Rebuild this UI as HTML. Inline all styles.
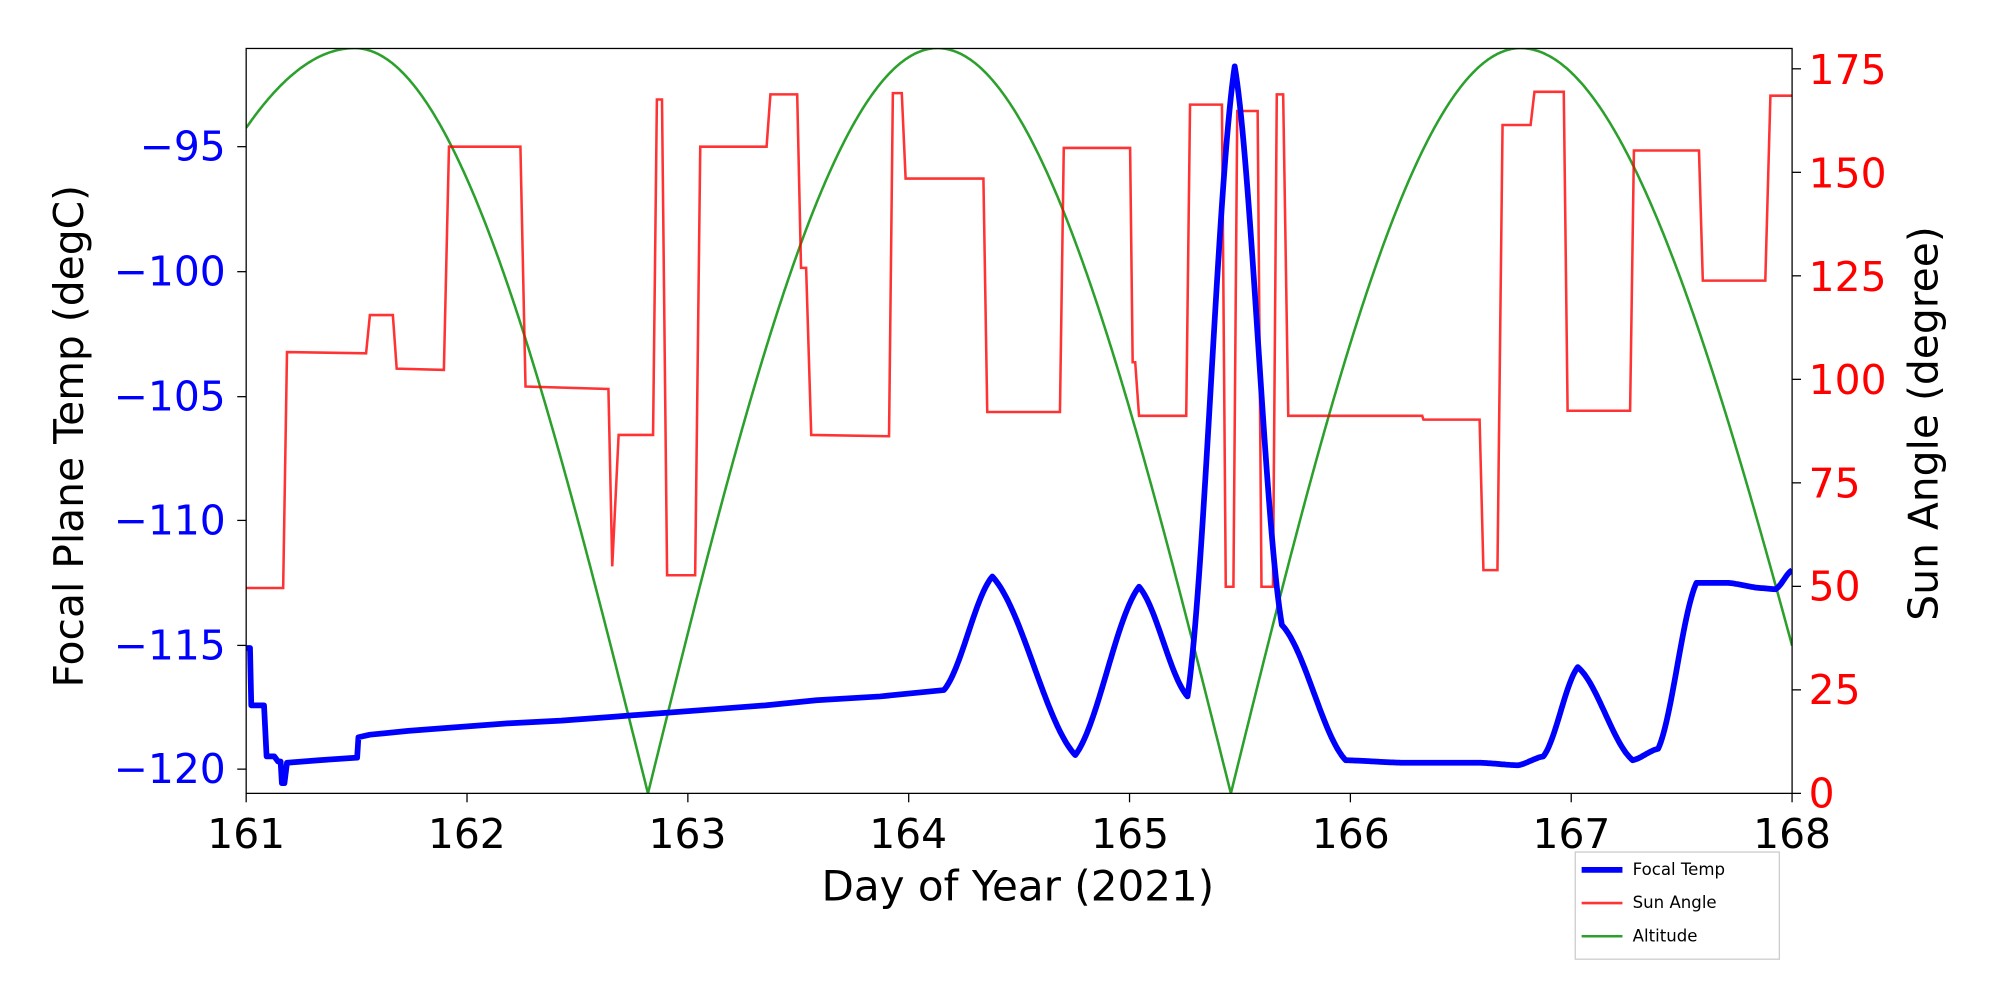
<!DOCTYPE html>
<html><head><meta charset="utf-8"><style>
html,body{margin:0;padding:0;background:#fff;}
svg{display:block;font-family:"DejaVu Sans","Liberation Sans",sans-serif;}
</style></head><body>
<svg id="s" width="2000" height="1000" viewBox="0 0 1568 784" preserveAspectRatio="none" xmlns="http://www.w3.org/2000/svg">
<defs><clipPath id="c"><rect x="193" y="38" width="1212" height="584"/></clipPath></defs>
<rect x="0" y="0" width="1568" height="784" fill="#fff"/>
<g clip-path="url(#c)">
<polyline id="alt" fill="none" stroke="#2ca02c" stroke-width="2"/>
<polyline fill="none" stroke="#ff0000" stroke-opacity="0.8" stroke-width="2" points="193,461 222,461 225,276 287,277 290,247 308,247 311,289 348,290 352,115 408,115 412,303 477,305 480,444 485,341 512,341 515,78 519,78 523,451 545,451 549,115 601,115 604,74 625,74 628,210 632,210 636,341 697,342 700,73 707,73 710,140 771,140 774,323 831,323 834,116 886,116 888,284 890,284 893,326 930,326 933,82 958,82 961,460 967,460 970,87 986,87 989,460 998,460 1001,74 1006,74 1010,326 1115,326 1116,329 1160,329 1163,447 1174,447 1178,98 1200,98 1203,72 1226,72 1229,322 1278,322 1281,118 1332,118 1335,220 1384,220 1388,75 1405,75"/>
<polyline id="ft" fill="none" stroke="#0000ff" stroke-width="4.5" stroke-linejoin="round"/>
</g>
<rect x="193" y="38" width="1212" height="584" fill="none" stroke="#000" stroke-width="1"/>
<g id="ticks" stroke="#000" stroke-width="1"></g>
<g font-size="32" fill="#0000ff" text-anchor="end">
<text x="177" y="126">−95</text><text x="177" y="224">−100</text><text x="177" y="322">−105</text><text x="177" y="419">−110</text><text x="177" y="517">−115</text><text x="177" y="614">−120</text>
</g>
<g font-size="32" fill="#ff0000" text-anchor="start">
<text x="1418" y="633">0</text><text x="1418" y="552">25</text><text x="1418" y="471">50</text><text x="1418" y="390">75</text><text x="1418" y="309">100</text><text x="1418" y="228">125</text><text x="1418" y="147">150</text><text x="1418" y="66">175</text>
</g>
<g font-size="32" fill="#000" text-anchor="middle">
<text x="193" y="665">161</text><text x="366" y="665">162</text><text x="539" y="665">163</text><text x="712" y="665">164</text><text x="886" y="665">165</text><text x="1059" y="665">166</text><text x="1232" y="665">167</text><text x="1405" y="665">168</text>
</g>
<text x="798" y="706" font-size="33" text-anchor="middle">Day of Year (2021)</text>
<text transform="translate(65,342) rotate(-90)" font-size="32" text-anchor="middle">Focal Plane Temp (degC)</text>
<text transform="translate(1519,332) rotate(-90)" font-size="32" text-anchor="middle">Sun Angle (degree)</text>
<rect x="1235" y="668" width="160" height="84" fill="#fff" stroke="#ccc" stroke-width="1"/>
<line x1="1240" y1="682" x2="1272" y2="682" stroke="#0000ff" stroke-width="4.5"/>
<line x1="1240" y1="708" x2="1272" y2="708" stroke="#ff0000" stroke-opacity="0.8" stroke-width="2"/>
<line x1="1240" y1="734" x2="1272" y2="734" stroke="#2ca02c" stroke-width="2"/>
<g font-size="13" fill="#000"><text x="1280" y="686">Focal Temp</text><text x="1280" y="712">Sun Angle</text><text x="1280" y="738">Altitude</text></g>
</svg>
<script>
(function(){
var a=[];
for(var x=193;x<=1405;x+=1){
 var pk,w;
 if(x<278){pk=278;w=286;}
 else if(x<508){pk=278;w=230;}
 else if(x<735){pk=735;w=227;}
 else if(x<965){pk=735;w=230;}
 else if(x<1192){pk=1192;w=227;}
 else {pk=1192;w=244;}
 var v=180*Math.cos(Math.PI/2*(x-pk)/w);if(v<0)v=-v;
 a.push(x+","+(622-v*3.246).toFixed(1));}
document.getElementById("alt").setAttribute("points",a.join(" "));
var steps="193,508 196,508 197,553 207,553 209,593 215,593 218,597 220,597 221,614 223,614 225,598 250,596 280,594 281,578 290,576 320,573 360,570 400,567 440,565 480,562 520,559 560,556 600,553 640,549 690,546 740,541";
var k=[[740,541],[778,452],[843,592],[893,460],[931,546],[968,52],[1005,490],[1055,596],[1100,598],[1160,598],[1190,600],[1210,593],[1237,523],[1280,596],[1300,587],[1330,457],[1355,457],[1380,461],[1392,462],[1405,447]];
var p=steps.split(" ");
for(var i=0;i<k.length-1;i++){var x0=k[i][0],y0=k[i][1],x1=k[i+1][0],y1=k[i+1][1];for(var x=x0+1;x<=x1;x++){var t=(x-x0)/(x1-x0);var s=0.5*((1-Math.cos(Math.PI*t))/2)+0.5*t;p.push(x+","+(y0+(y1-y0)*s).toFixed(1));}}
document.getElementById("ft").setAttribute("points",p.join(" "));
var g=document.getElementById("ticks"),h="";
[115,213,311,408,506,603].forEach(function(y){h+='<line x1="186" y1="'+y+'" x2="193" y2="'+y+'"/>';});
[0,25,50,75,100,125,150,175].forEach(function(v){var y=622-v*3.246;h+='<line x1="1405" y1="'+y+'" x2="1412" y2="'+y+'"/>';});
for(var d=0;d<8;d++){var x=193+d*173.14;h+='<line x1="'+x+'" y1="622" x2="'+x+'" y2="629"/>';}
g.innerHTML=h;
})();
</script>
</body></html>
